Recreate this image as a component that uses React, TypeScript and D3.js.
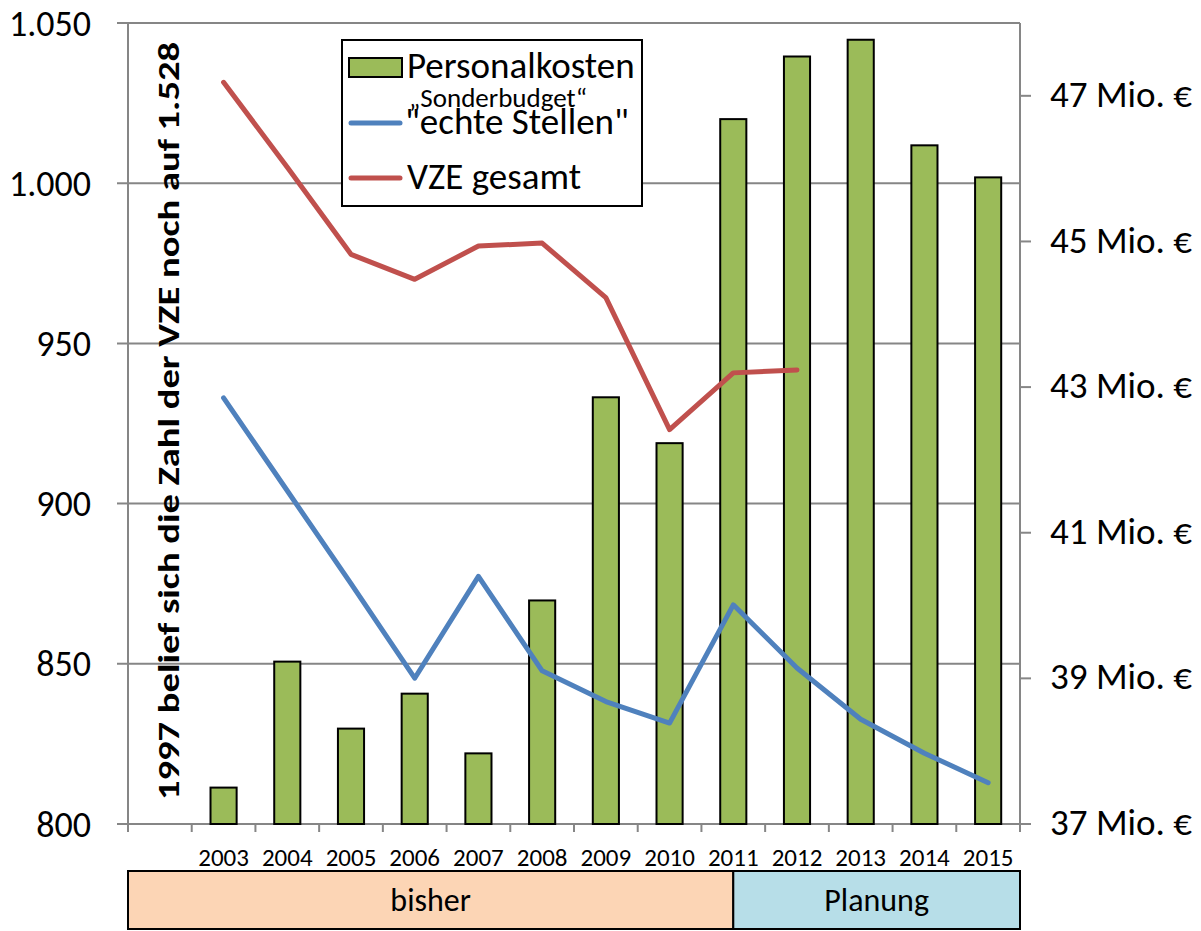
import React from 'react'
import * as d3 from 'd3'

// Kategorien: ein leerer Platz vor 2003, dann die Jahre
const years = ['2003', '2004', '2005', '2006', '2007', '2008', '2009', '2010', '2011', '2012', '2013', '2014', '2015']
const slots = ['', ...years]

// Personalkosten in Mio. € (rechte Achse)
const personalkosten = [37.5, 39.23, 38.31, 38.79, 37.97, 40.07, 42.86, 42.23, 46.68, 47.54, 47.77, 46.32, 45.88]
// "echte Stellen" (linke Achse)
const echteStellen = [933, 904, 875, 845.5, 877.3, 847.8, 838.2, 831.5, 868.4, 848.7, 832.7, 822.1, 812.9]
// VZE gesamt (linke Achse)
const vzeGesamt: (number | null)[] = [1031.5, 1005, 977.8, 970, 980.4, 981.3, 964.3, 923.1, 940.8, 941.7, null, null, null]

const leftTicks = [800, 850, 900, 950, 1000, 1050]
const rightTicks = [37, 39, 41, 43, 45, 47]
const phaseLabels = ['bisher', 'Planung']
const phaseSplit = '2011'
const note = '1997 belief sich die Zahl der VZE noch auf 1.528'

const FONT = "Calibri, Carlito, 'Open Sans', sans-serif"
const GRID = '#868686'
const GREEN = '#9BBB59'
const BLUE = '#4F81BD'
const RED = '#C0504D'

const W = 1201
const H = 931
const left = 128
const right = 1020
const top = 23
const bottom = 824

const de = d3.formatLocale({ decimal: ',', thousands: '.', grouping: [3], currency: ['', ' €'] })
const fmt = de.format(',')

const App = () => {
	const x = d3.scaleBand<string>().domain(slots).range([left, right])
	const yL = d3.scaleLinear().domain([800, 1050]).range([bottom, top])
	const yR = d3.scaleLinear().domain([37, 48]).range([bottom, top])
	const cx = (c: string) => (x(c) as number) + x.bandwidth() / 2
	const barW = x.bandwidth() * 0.41

	const line = d3
		.line<[string, number | null]>()
		.defined(d => d[1] != null)
		.x(d => cx(d[0]))
		.y(d => yL(d[1] as number))

	const blueD = line(years.map((y, i) => [y, echteStellen[i]])) || ''
	const redD = line(years.map((y, i) => [y, vzeGesamt[i]])) || ''

	const splitX = cx(phaseSplit)
	const phases = [
		{ label: phaseLabels[0], x0: left, x1: splitX, fill: '#FCD5B5' },
		{ label: phaseLabels[1], x0: splitX, x1: right, fill: '#B7DEE8' }
	]

	const bounds = [...slots.map(s => x(s) as number), right]

	return (
		<svg
			width={W}
			height={H}
			style={{ position: 'absolute', left: 0, top: 0, background: '#fff' }}
			fontFamily={FONT}
		>
			{/* Gitter + Achsen */}
			<g>
				{leftTicks.map(t => (
					<line key={t} x1={left - 11} x2={right} y1={yL(t)} y2={yL(t)} stroke={GRID} strokeWidth={2} />
				))}
				<line x1={left} x2={left} y1={top} y2={bottom + 8} stroke={GRID} strokeWidth={2} />
				<line x1={right} x2={right} y1={top} y2={bottom + 8} stroke={GRID} strokeWidth={2} />
				{bounds.map((b, i) => (
					<line key={i} x1={b} x2={b} y1={bottom} y2={bottom + 8} stroke={GRID} strokeWidth={2} />
				))}
				{rightTicks.map(t => (
					<line key={t} x1={right} x2={right + 11} y1={yR(t)} y2={yR(t)} stroke={GRID} strokeWidth={2} />
				))}
			</g>

			{/* Achsenbeschriftung */}
			<g fill="#000">
				{leftTicks.map(t => (
					<text key={t} x={91} y={yL(t)} dy="0.35em" textAnchor="end" fontSize={36}>
						{fmt(t)}
					</text>
				))}
				{rightTicks.map(t => (
					<text key={t} x={1050} y={yR(t)} dy="0.3em" fontSize={37}>
						{t} Mio. €
					</text>
				))}
			</g>
			<g fontSize={25}>
				{years.map(y => (
					<text key={y} x={cx(y)} y={866} textAnchor="middle">
						{y}
					</text>
				))}
			</g>

			{/* Balken */}
			<g>
				{years.map((y, i) => (
					<rect
						key={y}
						x={cx(y) - barW / 2}
						y={yR(personalkosten[i])}
						width={barW}
						height={bottom - yR(personalkosten[i])}
						fill={GREEN}
						stroke="#000"
						strokeWidth={2}
					/>
				))}
			</g>

			{/* Linien */}
			<path d={blueD} fill="none" stroke={BLUE} strokeWidth={5} strokeLinejoin="round" strokeLinecap="round" />
			<path d={redD} fill="none" stroke={RED} strokeWidth={5} strokeLinejoin="round" strokeLinecap="round" />

			{/* Hinweis */}
			<text
				transform={`translate(179, 421) rotate(-90)`}
				textAnchor="middle"
				fontWeight="bold"
				fontSize={31}
				textLength={758}
				lengthAdjust="spacingAndGlyphs"
			>
				{note}
			</text>

			{/* Legende */}
			<g>
				<rect x={342} y={40} width={300} height={166} fill="#fff" stroke="#000" strokeWidth={2} />
				<rect x={349} y={58} width={53} height={19} fill={GREEN} stroke="#000" strokeWidth={2} />
				<text x={407} y={78} fontSize={37}>
					Personalkosten
				</text>
				<line x1={351} x2={400} y1={123} y2={123} stroke={BLUE} strokeWidth={5} strokeLinecap="round" />
				<text x={409} y={107} fontSize={27}>
					„Sonderbudget“
				</text>
				<text x={405} y={134} fontSize={37}>
					"echte Stellen"
				</text>
				<line x1={351} x2={400} y1={178} y2={178} stroke={RED} strokeWidth={5} strokeLinecap="round" />
				<text x={407} y={189} fontSize={37}>
					VZE gesamt
				</text>
			</g>

			{/* Phasen */}
			<g>
				{phases.map(p => (
					<g key={p.label}>
						<rect x={p.x0} y={871} width={p.x1 - p.x0} height={58} fill={p.fill} stroke="#000" strokeWidth={2} />
						<text x={(p.x0 + p.x1) / 2} y={911} textAnchor="middle" fontSize={32}>
							{p.label}
						</text>
					</g>
				))}
			</g>
		</svg>
	)
}

export default App
